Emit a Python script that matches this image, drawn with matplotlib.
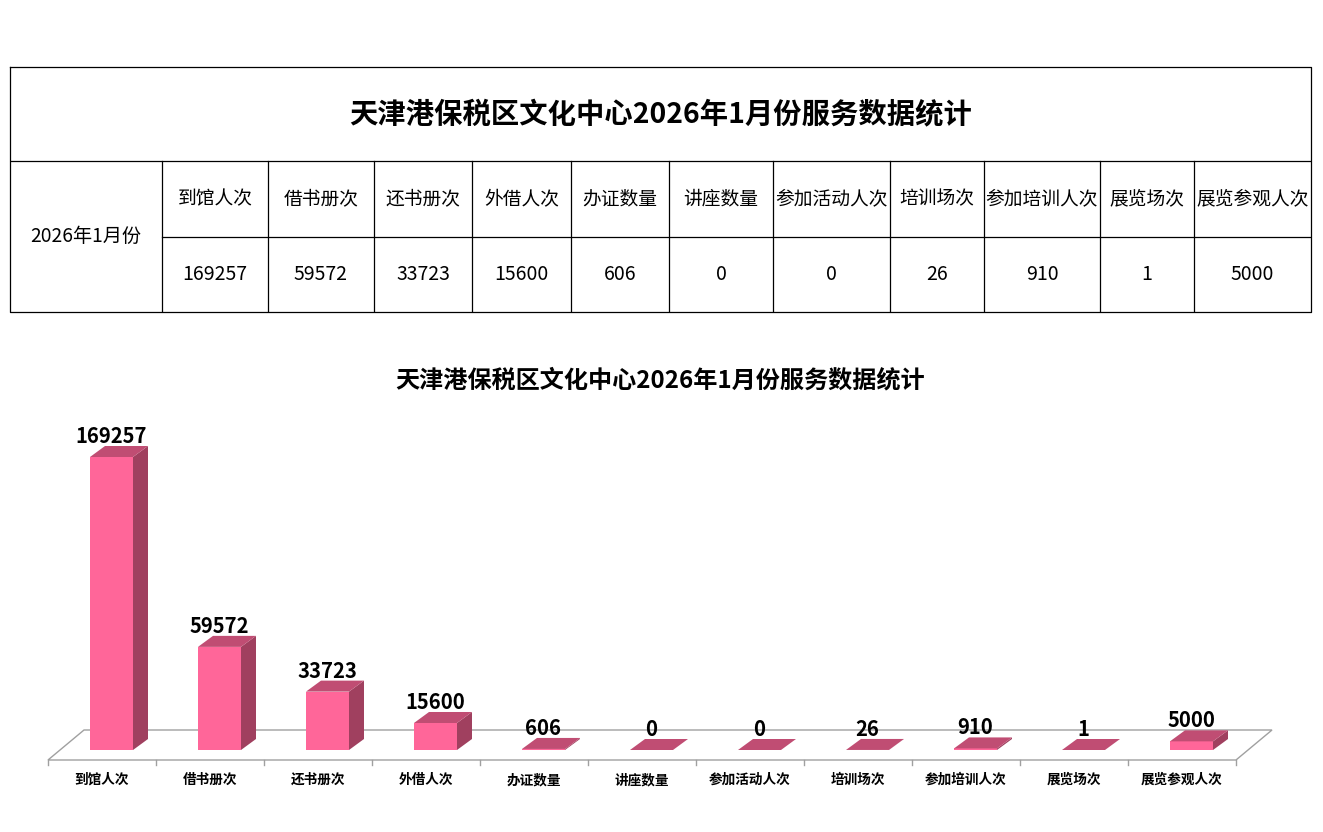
import matplotlib
matplotlib.use("Agg")
import matplotlib.pyplot as plt
from matplotlib.patches import Polygon, Rectangle

plt.rcParams['font.family'] = ['Noto Sans CJK SC', 'DejaVu Sans']

# data
title = "天津港保税区文化中心2026年1月份服务数据统计"
period = "2026年1月份"
categories = ["到馆人次", "借书册次", "还书册次", "外借人次", "办证数量", "讲座数量",
              "参加活动人次", "培训场次", "参加培训人次", "展览场次", "展览参观人次"]
values = [169257, 59572, 33723, 15600, 606, 0, 0, 26, 910, 1, 5000]

W, H = 1323, 832
fig = plt.figure(figsize=(W / 100, H / 100), dpi=100)

# ---------------- table ----------------
col_widths = [152, 106, 106, 98, 99, 98, 104, 117, 94, 116, 94, 117]
row_edges = [0, 94, 170, 245]
tx0, ty0 = 10, 67
tw, th = sum(col_widths), row_edges[-1]
tax = fig.add_axes([tx0 / W, 1 - (ty0 + th) / H, tw / W, th / H])
tax.set_xlim(0, tw)
tax.set_ylim(th, 0)
tax.axis("off")

lw = 0.9
edges = [0]
for w in col_widths:
    edges.append(edges[-1] + w)
# outer box
tax.plot([0, tw, tw, 0, 0], [0, 0, th, th, 0], color="black", lw=lw, clip_on=False)
tax.plot([0, tw], [row_edges[1]] * 2, color="black", lw=lw)
tax.plot([edges[1], tw], [row_edges[2]] * 2, color="black", lw=lw)
for e in edges[1:-1]:
    tax.plot([e, e], [row_edges[1], th], color="black", lw=lw)

tax.text(tw / 2, row_edges[1] / 2, title, ha="center", va="center",
         fontsize=20.4, fontweight="bold")
tax.text(edges[1] / 2, (row_edges[1] + th) / 2, period, ha="center", va="center",
         fontsize=13.8)
for i, (c, v) in enumerate(zip(categories, values)):
    cx = (edges[i + 1] + edges[i + 2]) / 2
    tax.text(cx, (row_edges[1] + row_edges[2]) / 2, c, ha="center", va="center",
             fontsize=13.5)
    tax.text(cx, (row_edges[2] + row_edges[3]) / 2, str(v), ha="center", va="center",
             fontsize=14)

# ---------------- 3D bar chart ----------------
left_px, right_px = 48, 1236
top_px, bot_px = 440, 770
zero_px = 750
upp = max(values) / 293.0          # value units per pixel
cpp = 1.0 / 108                    # category units per pixel

ax = fig.add_axes([left_px / W, 1 - bot_px / H, (right_px - left_px) / W,
                   (bot_px - top_px) / H])
ax.set_xlim(-0.5, len(categories) - 0.5)
ax.set_ylim(-(bot_px - zero_px) * upp, (zero_px - top_px) * upp)
ax.axis("off")

# floor
fy_front, fy_back = -10 * upp, 20 * upp
fdx = 36 * cpp
xa, xb = -0.5, len(categories) - 0.5
floor = Polygon([(xa, fy_front), (xb, fy_front), (xb + fdx, fy_back), (xa + fdx, fy_back)],
                closed=True, facecolor="white", edgecolor="#a0a0a0", lw=1.0,
                clip_on=False, zorder=1)
ax.add_patch(floor)
for k in range(len(categories) + 1):
    ax.plot([xa + k, xa + k], [fy_front, fy_front - 5 * upp], color="#a0a0a0", lw=1.0,
            clip_on=False, zorder=1)

front_c, side_c, top_c = "#FF6699", "#A0405F", "#C04D73"
bw = 43 * cpp
bdx, bdy = 15 * cpp, 11 * upp
for i, v in enumerate(values):
    x0 = i - 12 * cpp
    x1 = x0 + bw
    ax.add_patch(Rectangle((x0, 0), bw, v, facecolor=front_c, edgecolor="none",
                           clip_on=False, zorder=3))
    ax.add_patch(Polygon([(x1, 0), (x1 + bdx, bdy), (x1 + bdx, v + bdy), (x1, v)],
                         closed=True, facecolor=side_c, edgecolor="none",
                         clip_on=False, zorder=3))
    ax.add_patch(Polygon([(x0, v), (x1, v), (x1 + bdx, v + bdy), (x0 + bdx, v + bdy)],
                         closed=True, facecolor=top_c, edgecolor="none",
                         clip_on=False, zorder=3))
    ax.text(x0 + bw / 2, v + bdy + 3 * upp, str(v), ha="center", va="baseline",
            fontsize=14.6, fontweight="bold", zorder=4, clip_on=False)
    ax.text(i, fy_front - 20 * upp, categories[i], ha="center", va="center",
            fontsize=9.8, fontweight="bold", clip_on=False)

fig.text(660 / W, 1 - 380 / H, title, ha="center", va="center",
         fontsize=17.4, fontweight="bold")

fig.savefig("out.png", dpi=100, facecolor="white")
